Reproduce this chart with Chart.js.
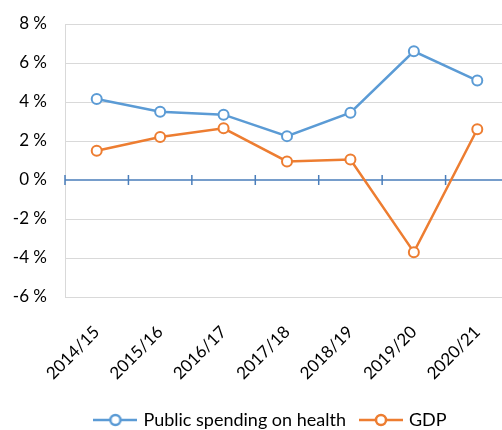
<!DOCTYPE html>
<html>
<head>
<meta charset="utf-8">
<script src="https://cdn.jsdelivr.net/npm/chart.js@4.4.0/dist/chart.umd.min.js"></script>
<style>
  html, body { margin: 0; padding: 0; background: #fff; overflow: hidden; }
  #wrap { width: 535px; height: 430px; position: relative; }
</style>
</head>
<body>
<div id="wrap"><canvas id="myChart"></canvas></div>
<script>
const years = ['2014/15', '2015/16', '2016/17', '2017/18', '2018/19', '2019/20', '2020/21'];
const healthSpending = [4.15, 3.5, 3.35, 2.25, 3.45, 6.6, 5.1];
const gdp = [1.5, 2.2, 2.65, 0.95, 1.05, -3.7, 2.6];

const BLUE = '#5B9BD5';
const ORANGE = '#ED7D31';
const AXIS = '#4A7EBB';

// icono de leyenda: línea con círculo
function iconoLeyenda(color) {
  const c = document.createElement('canvas');
  c.width = 44; c.height = 14;
  const g = c.getContext('2d');
  g.strokeStyle = color;
  g.lineWidth = 2.5;
  g.beginPath(); g.moveTo(0, 7); g.lineTo(44, 7); g.stroke();
  g.fillStyle = '#fff';
  g.beginPath(); g.arc(22, 7, 5, 0, Math.PI * 2); g.fill(); g.stroke();
  return c;
}

// eje horizontal en 0 con marcas
const ejeCero = {
  id: 'ejeCero',
  afterLayout(chart) {
    // mover la leyenda un poco a la derecha
    chart.legend.left += 17;
    chart.legend.right += 17;
    chart.legend.adjustHitBoxes && chart.legend.adjustHitBoxes();
  },
  beforeDatasetsDraw(chart) {
    const { ctx, scales: { x, y }, chartArea } = chart;
    const y0 = y.getPixelForValue(0);
    ctx.save();
    ctx.strokeStyle = AXIS;
    ctx.lineWidth = 1.5;
    ctx.beginPath();
    ctx.moveTo(chartArea.left, y0);
    ctx.lineTo(chartArea.right, y0);
    for (let i = 0; i <= years.length; i++) {
      const px = chartArea.left + (chartArea.right - chartArea.left) * i / years.length;
      ctx.moveTo(px, y0 - 5);
      ctx.lineTo(px, y0 + 5);
    }
    ctx.stroke();
    ctx.restore();
  }
};

Chart.defaults.font.family = 'Lato, "Open Sans", sans-serif';
Chart.defaults.color = '#000';

new Chart(document.getElementById('myChart'), {
  type: 'line',
  data: {
    labels: years,
    datasets: [
      {
        label: 'Public spending on health',
        data: healthSpending,
        borderColor: BLUE,
        backgroundColor: '#fff',
        borderWidth: 2.5,
        pointRadius: 5,
        pointBorderWidth: 2,
        pointStyle: 'circle',
        tension: 0
      },
      {
        label: 'GDP',
        data: gdp,
        borderColor: ORANGE,
        backgroundColor: '#fff',
        borderWidth: 2.5,
        pointRadius: 5,
        pointBorderWidth: 2,
        pointStyle: 'circle',
        tension: 0
      }
    ]
  },
  options: {
    responsive: true,
    maintainAspectRatio: false,
    animation: false,
    layout: { padding: { top: 24, left: 0, right: 26, bottom: -9 } },
    plugins: {
      tooltip: { enabled: false },
      legend: {
        position: 'bottom',
        labels: {
          font: { size: 18 },
          usePointStyle: true,
          pointStyleWidth: 38,
          padding: 16,
          generateLabels: chart => chart.data.datasets.map((ds, i) => ({
            text: ds.label,
            pointStyle: iconoLeyenda(ds.borderColor),
            fillStyle: '#fff',
            strokeStyle: ds.borderColor,
            lineWidth: 0,
            datasetIndex: i,
            fontColor: '#000'
          }))
        }
      }
    },
    scales: {
      x: {
        offset: true,
        grid: { display: false },
        border: { display: false },
        ticks: { font: { size: 17 }, minRotation: 45, maxRotation: 45, padding: 17 },
        afterFit: s => { s.paddingLeft = 0; s.paddingRight = 0; s.height = 98; }
      },
      y: {
        min: -6,
        max: 8,
        border: { color: '#d9d9d9' },
        grid: {
          color: ctx => ctx.tick && ctx.tick.value === 0 ? 'rgba(0,0,0,0)' : '#d9d9d9',
          drawTicks: false
        },
        ticks: {
          stepSize: 2,
          font: { size: 17 },
          padding: 18,
          callback: v => v + ' %'
        },
        afterFit: s => { s.width = 65; s.paddingTop = 0; s.paddingBottom = 0; }
      }
    }
  },
  plugins: [ejeCero]
});
</script>
</body>
</html>
